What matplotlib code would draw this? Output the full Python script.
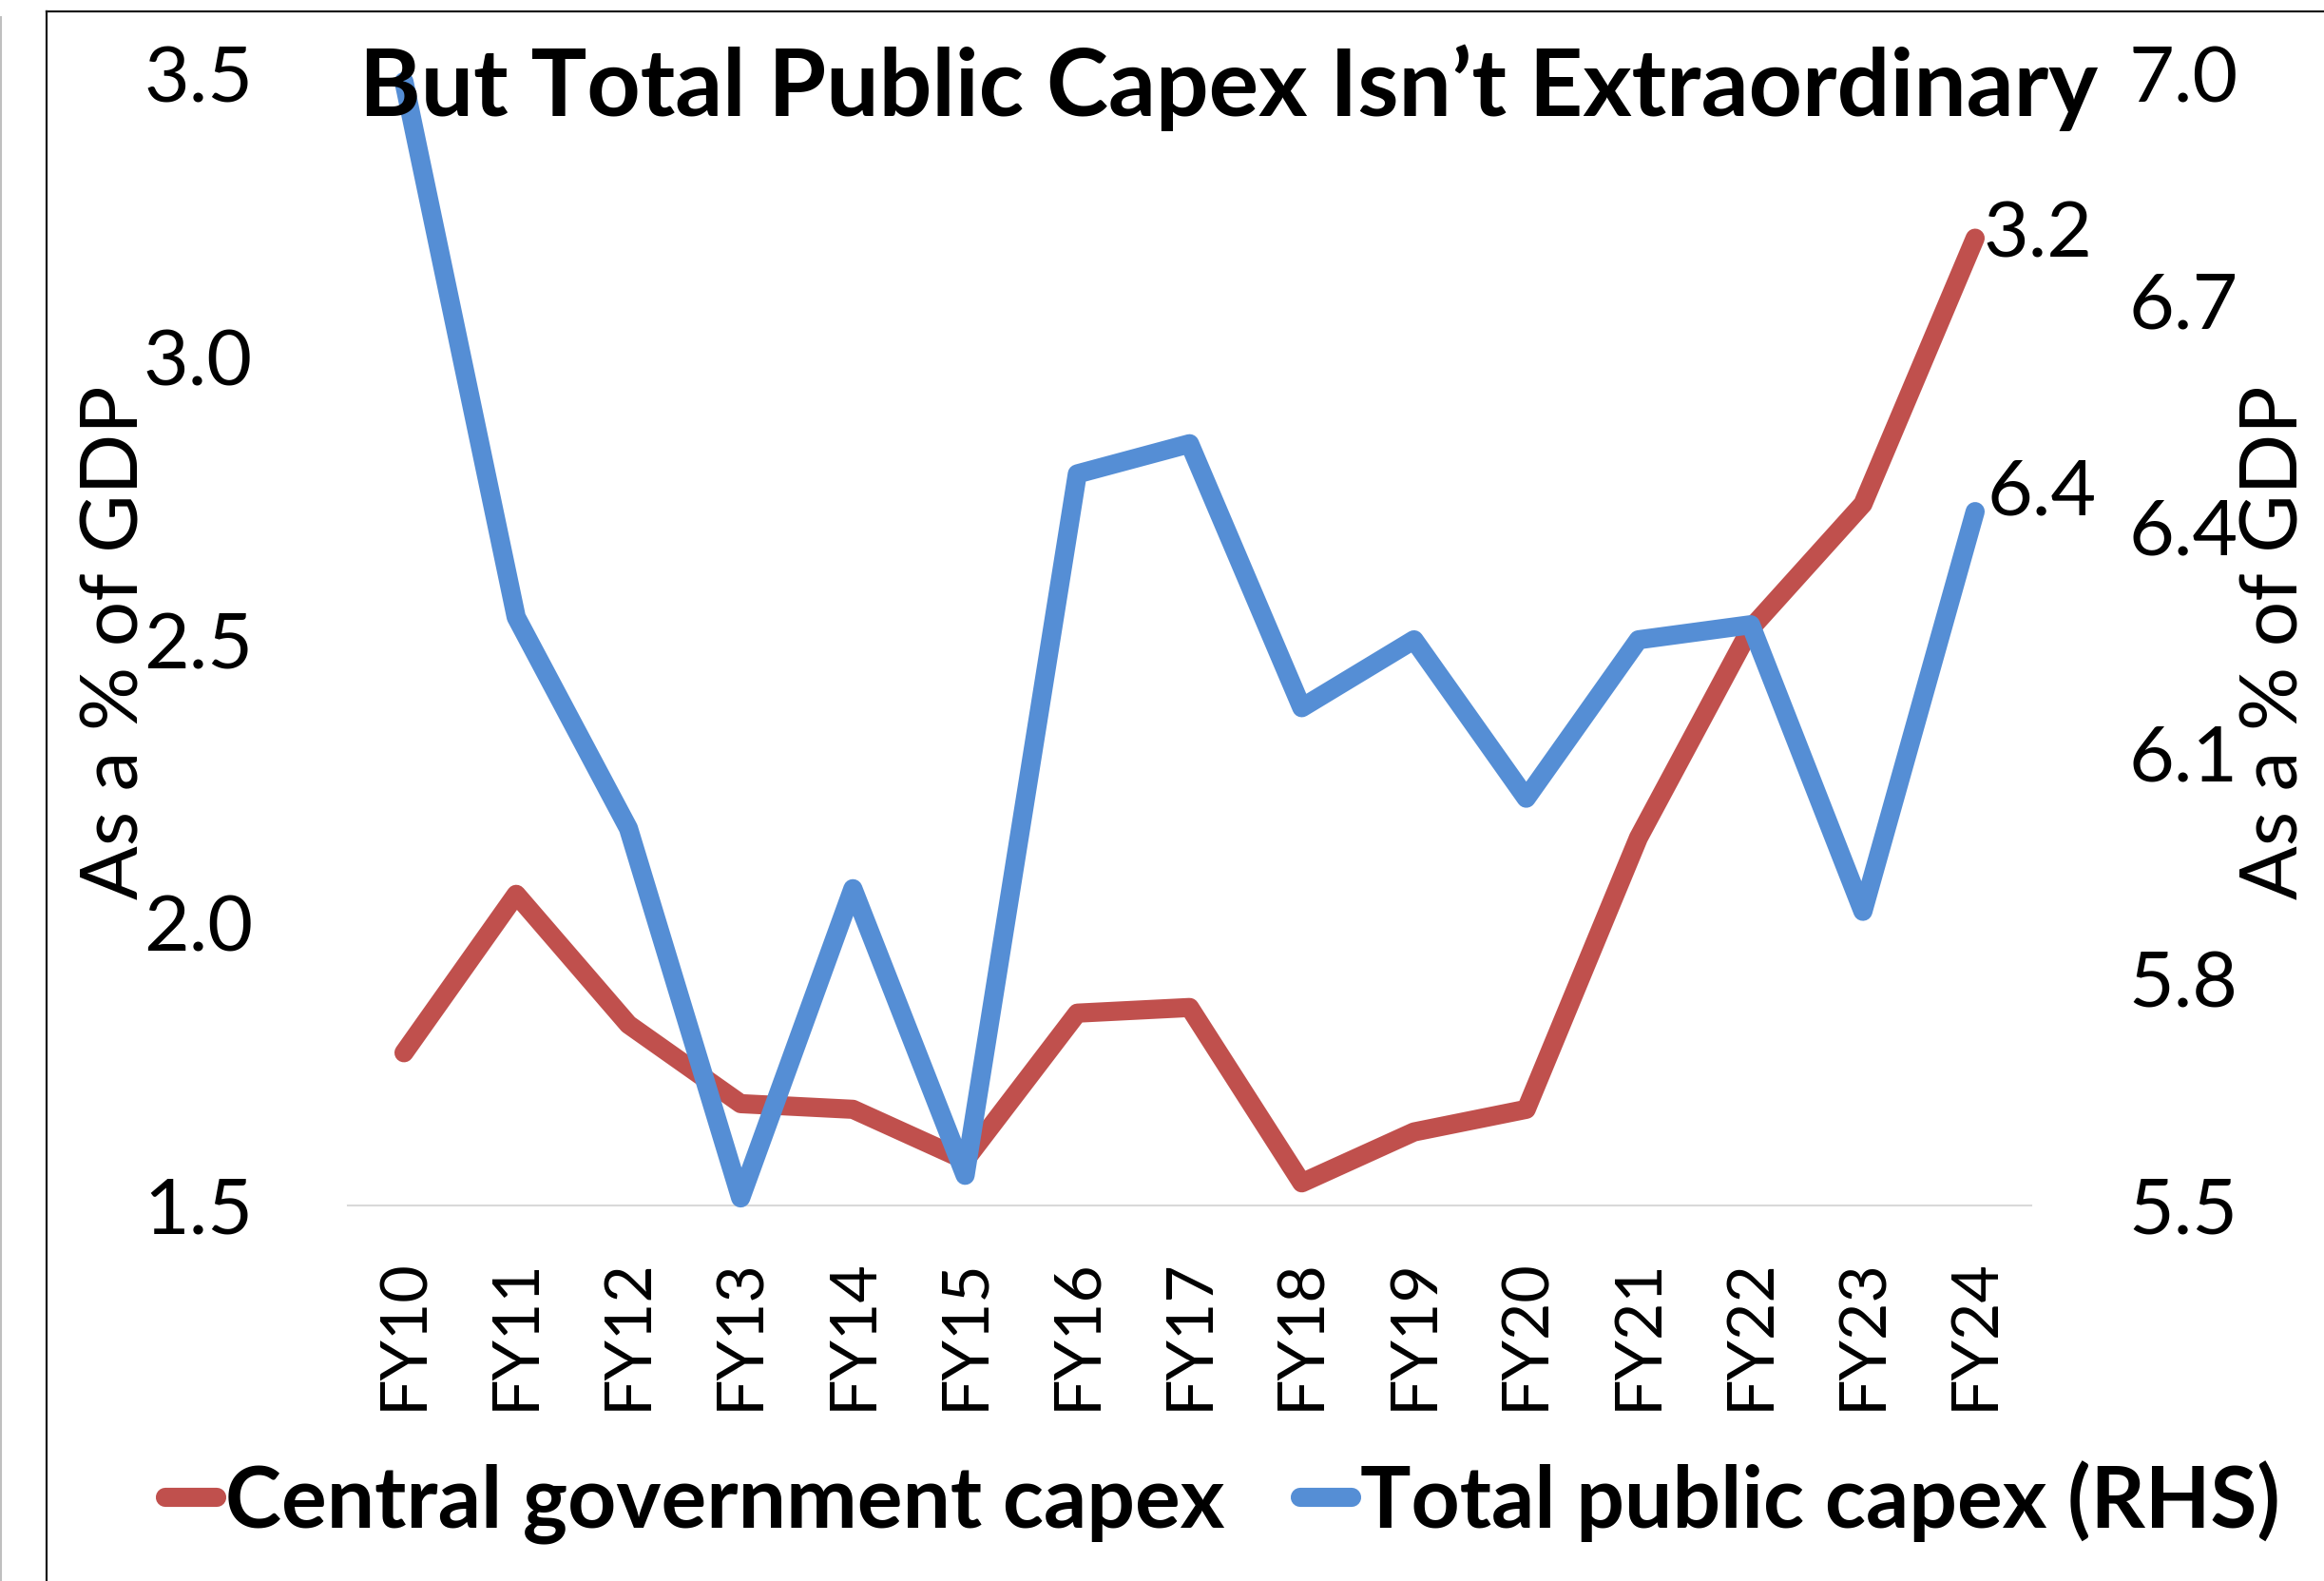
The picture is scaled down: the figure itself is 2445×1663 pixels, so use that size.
import matplotlib
matplotlib.use("Agg")
import matplotlib.pyplot as plt
from matplotlib.lines import Line2D
import numpy as np

# ---------------- data ----------------
years = ["FY10", "FY11", "FY12", "FY13", "FY14", "FY15", "FY16", "FY17",
         "FY18", "FY19", "FY20", "FY21", "FY22", "FY23", "FY24"]
central_capex = [1.77, 2.05, 1.82, 1.68, 1.67, 1.58, 1.84, 1.85,
                 1.54, 1.63, 1.67, 2.15, 2.52, 2.74, 3.21]
total_capex = [6.99, 6.28, 6.00, 5.51, 5.92, 5.54, 6.47, 6.51,
               6.16, 6.25, 6.04, 6.25, 6.27, 5.89, 6.42]
left_ticks = [1.5, 2.0, 2.5, 3.0, 3.5]
right_ticks = [5.5, 5.8, 6.1, 6.4, 6.7, 7.0]
series_names = ["Central government capex", "Total public capex (RHS)"]
title_text = "But Total Public Capex Isn\u2019t Extraordinary"
axis_label = "As a % of GDP"

RED = "#C0504D"
BLUE = "#558ED5"
FONT = "Lato"
W, H = 2445, 1663
LW = 14.5

fig = plt.figure(figsize=(W / 100, H / 100), dpi=100)
renderer = fig.canvas.get_renderer()


def fit(txt, target_px, weight="normal"):
    t = fig.text(0, 0, txt, fontsize=100, family=FONT, fontweight=weight)
    w = t.get_window_extent(renderer).width
    t.remove()
    return 100 * target_px / w


title_fs = fit(title_text, 1830, "bold")
legend_fs = fit(series_names[0], 1050, "bold")
ylab_fs = fit(axis_label, 540)
xtick_fs = fit("FY10", 160)
ytick_fs = fit("3.2", 115)

# ---------------- frame lines ----------------
fig.add_artist(Line2D([49 / W, 49 / W], [0, 1 - 12 / H], transform=fig.transFigure,
                      color="#1a1a1a", lw=1.6))
fig.add_artist(Line2D([49 / W, 1.0], [1 - 12 / H, 1 - 12 / H], transform=fig.transFigure,
                      color="#1a1a1a", lw=1.6))
fig.add_artist(Line2D([1 / W, 1 / W], [0, 1 - 18 / H], transform=fig.transFigure,
                      color="#BFBFBF", lw=1.5))

# ---------------- axes ----------------
left, right, bottom, top = 366 / W, 2137 / W, 1 - 1268 / H, 1 - 78 / H
ax = fig.add_axes([left, bottom, right - left, top - bottom])
ax.patch.set_alpha(0)
x = np.arange(len(years))

l1, = ax.plot(x, central_capex, color=RED, lw=LW, solid_capstyle="round",
              solid_joinstyle="round", clip_on=False, label=series_names[0], zorder=3)
ax.set_xlim(-0.5, len(years) - 0.5)
ax.set_ylim(left_ticks[0], left_ticks[-1])
ax.set_yticks(left_ticks)
ax.set_yticklabels([f"{v:.1f}" for v in left_ticks], family=FONT, fontsize=ytick_fs)
ax.set_xticks(x)
ax.set_xticklabels(years, family=FONT, fontsize=xtick_fs, rotation=90)
ax.tick_params(axis="y", length=0, pad=72)
ax.tick_params(axis="x", length=0, pad=40)
for s in ["top", "left", "right"]:
    ax.spines[s].set_visible(False)
ax.spines["bottom"].set_color("#D9D9D9")
ax.spines["bottom"].set_linewidth(1.5)

ax2 = ax.twinx()
l2, = ax2.plot(x, total_capex, color=BLUE, lw=LW, solid_capstyle="round",
               solid_joinstyle="round", clip_on=False, label=series_names[1], zorder=3)
ax2.set_ylim(right_ticks[0], right_ticks[-1])
ax2.set_yticks(right_ticks)
ax2.set_yticklabels([f"{v:.1f}" for v in right_ticks], family=FONT, fontsize=ytick_fs)
ax2.tick_params(axis="y", length=0, pad=74)
for s in ["top", "left", "right", "bottom"]:
    ax2.spines[s].set_visible(False)

# data labels at the last point
ax.annotate(f"{central_capex[-1]:.1f}", xy=(x[-1], central_capex[-1]),
            xytext=(9 * 0.72, -20 * 0.72), textcoords="offset points",
            ha="left", va="baseline", family=FONT, fontsize=ytick_fs,
            annotation_clip=False, zorder=5)
ax2.annotate(f"{total_capex[-1]:.1f}", xy=(x[-1], total_capex[-1]),
             xytext=(13 * 0.72, -3 * 0.72), textcoords="offset points",
             ha="left", va="baseline", family=FONT, fontsize=ytick_fs,
             annotation_clip=False, zorder=5)

# axis titles
fig.text(145 / W, 1 - 676 / H, axis_label, rotation=90, rotation_mode="anchor",
         ha="center", va="baseline", family=FONT, fontsize=ylab_fs)
fig.text(2418 / W, 1 - 676 / H, axis_label, rotation=90, rotation_mode="anchor",
         ha="center", va="baseline", family=FONT, fontsize=ylab_fs)

# chart title
fig.text(1293 / W, 1 - 122 / H, title_text, ha="center", va="baseline",
         family=FONT, fontweight="bold", fontsize=title_fs)

# legend
em = legend_fs * 100 / 72
fig.legend(handles=[l1, l2], loc="center left", bbox_to_anchor=(174 / W, 1 - 1580 / H),
           bbox_transform=fig.transFigure, ncol=2, frameon=False,
           prop={"family": FONT, "weight": "bold", "size": legend_fs},
           handlelength=54 / em, handletextpad=9 / em, columnspacing=80 / em,
           borderpad=0, borderaxespad=0)

fig.savefig("out.png", dpi=100)
